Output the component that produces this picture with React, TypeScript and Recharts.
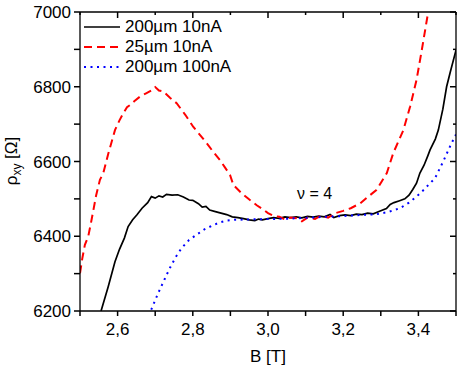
import { LineChart, Line, XAxis, YAxis } from 'recharts'

const FONT = '"Liberation Sans", Arial, sans-serif'

// B [T] , rho_xy [Ohm]
const black200um10nA = [
  [2.55, 6185], [2.556, 6200], [2.575, 6265], [2.593, 6332], [2.605, 6365], [2.618, 6395], [2.628, 6426],
  [2.64, 6444], [2.651, 6457], [2.665, 6475], [2.68, 6490], [2.69, 6506], [2.70, 6502], [2.71, 6508],
  [2.72, 6505], [2.73, 6512], [2.745, 6510], [2.76, 6511], [2.775, 6505], [2.79, 6497], [2.80, 6496],
  [2.815, 6487], [2.825, 6478], [2.835, 6480], [2.845, 6470], [2.86, 6466], [2.875, 6462], [2.89, 6458],
  [2.905, 6452], [2.92, 6450], [2.935, 6447], [2.95, 6444], [2.965, 6442], [2.975, 6446], [2.985, 6444],
  [3.0, 6447], [3.015, 6450], [3.03, 6448], [3.045, 6452], [3.06, 6450], [3.075, 6452], [3.09, 6449],
  [3.105, 6453], [3.12, 6451], [3.135, 6454], [3.15, 6452], [3.165, 6458], [3.175, 6450], [3.19, 6455],
  [3.205, 6457], [3.22, 6455], [3.235, 6459], [3.25, 6458], [3.265, 6462], [3.28, 6460], [3.29, 6464],
  [3.30, 6468], [3.315, 6474], [3.325, 6485], [3.335, 6490], [3.35, 6495], [3.364, 6500], [3.375, 6510],
  [3.385, 6525], [3.395, 6542], [3.404, 6569], [3.415, 6590], [3.425, 6615], [3.431, 6631], [3.445, 6660],
  [3.453, 6684], [3.465, 6740], [3.475, 6800], [3.485, 6840], [3.5, 6898],
]

const red25um10nA = [
  [2.5, 6301], [2.506, 6340], [2.513, 6377], [2.522, 6400], [2.53, 6440], [2.543, 6510], [2.553, 6551],
  [2.562, 6569], [2.575, 6620], [2.593, 6684], [2.605, 6710], [2.615, 6729], [2.625, 6745], [2.633, 6751],
  [2.645, 6762], [2.66, 6774], [2.677, 6783], [2.69, 6790], [2.70, 6799], [2.71, 6790], [2.722, 6787],
  [2.74, 6770], [2.757, 6756], [2.78, 6725], [2.801, 6693], [2.82, 6670], [2.837, 6649], [2.855, 6625],
  [2.872, 6604], [2.885, 6585], [2.899, 6564], [2.908, 6537], [2.93, 6515], [2.952, 6497], [2.97, 6483],
  [2.988, 6471], [3.0, 6462], [3.014, 6455], [3.03, 6452], [3.045, 6445], [3.06, 6450], [3.076, 6448],
  [3.09, 6440], [3.105, 6450], [3.125, 6446], [3.14, 6455], [3.16, 6450], [3.18, 6462], [3.2, 6468],
  [3.22, 6475], [3.245, 6488], [3.265, 6505], [3.289, 6524], [3.302, 6546], [3.316, 6569], [3.333, 6622],
  [3.36, 6684], [3.378, 6747], [3.395, 6818], [3.409, 6898], [3.426, 7000], [3.44, 7060],
]

const blue200um100nA = [
  [2.68, 6170], [2.688, 6200], [2.708, 6248], [2.725, 6285], [2.739, 6315], [2.755, 6345], [2.77, 6368],
  [2.79, 6390], [2.81, 6404], [2.83, 6418], [2.855, 6430], [2.872, 6437], [2.89, 6442], [2.91, 6444],
  [2.95, 6445], [3.0, 6446], [3.05, 6447], [3.1, 6449], [3.15, 6452], [3.2, 6454], [3.25, 6457],
  [3.289, 6459], [3.32, 6465], [3.351, 6475], [3.375, 6490], [3.395, 6506], [3.415, 6525], [3.431, 6542],
  [3.444, 6555], [3.466, 6600], [3.484, 6640], [3.497, 6667], [3.5, 6672],
]

const X_TICKS = [2.5, 2.6, 2.7, 2.8, 2.9, 3.0, 3.1, 3.2, 3.3, 3.4, 3.5]
const Y_TICKS = [6200, 6300, 6400, 6500, 6600, 6700, 6800, 6900, 7000]
const X_MAJOR = [2.6, 2.8, 3.0, 3.2, 3.4]
const Y_MAJOR = [6200, 6400, 6600, 6800, 7000]

const SERIES = [
  { name: '200µm 10nA', data: black200um10nA, color: '#000000', dash: undefined, width: 1.7 },
  { name: '25µm 10nA', data: red25um10nA, color: '#ff0000', dash: '8 5', width: 2 },
  { name: '200µm 100nA', data: blue200um100nA, color: '#0000ff', dash: '2 4.5', width: 2 },
]

const toRows = (d: number[][]) => d.map(([b, r]) => ({ b, r }))
const isMajor = (list: number[], v: number) => list.some(m => Math.abs(m - v) < 1e-6)
const xFmt = (v: number) => (isMajor(X_MAJOR, v) ? v.toFixed(1).replace('.', ',') : '')
const yFmt = (v: number) => (isMajor(Y_MAJOR, v) ? String(v) : '')
const TICK_FONT = { fontSize: 17, fontFamily: FONT, fill: '#000' }
const AXIS_LINE = { stroke: '#000', strokeWidth: 1.3 }
const TICK_LINE = { stroke: '#000', strokeWidth: 1.5 }

// inward ticks for the mirrored top/right frame: props sit 8px (tickSize 6 + tickMargin 2) off the line
const TopTick = ({ x, y, payload }: any) => (
  <line x1={x} x2={x} y1={y + 8} y2={y + 8 + (isMajor(X_MAJOR, payload.value) ? 6 : 3)} stroke="#000" strokeWidth={1.5} />
)
const RightTick = ({ x, y, payload }: any) => (
  <line x1={x - 8} x2={x - 8 - (isMajor(Y_MAJOR, payload.value) ? 6 : 3)} y1={y} y2={y} stroke="#000" strokeWidth={1.5} />
)

export default function App() {
  return (
    <div style={{ position: 'absolute', left: 0, top: 0 }}>
      <LineChart width={457} height={367} margin={{ top: 11, right: 0, left: 0, bottom: 0 }}>
        <XAxis xAxisId="b" dataKey="b" type="number" domain={[2.5, 3.5]} ticks={X_TICKS} allowDataOverflow
          height={56} tickSize={5} tickMargin={7} tickLine={TICK_LINE} tick={TICK_FONT} tickFormatter={xFmt}
          interval={0} axisLine={AXIS_LINE} />
        <XAxis xAxisId="t" orientation="top" dataKey="b" type="number" domain={[2.5, 3.5]} ticks={X_TICKS} allowDataOverflow
          height={1} tickLine={false} tick={<TopTick />} interval={0} axisLine={AXIS_LINE} />
        <YAxis yAxisId="l" dataKey="r" type="number" domain={[6200, 7000]} ticks={Y_TICKS} allowDataOverflow
          width={80} tickSize={6} tickMargin={3} tickLine={TICK_LINE} tick={TICK_FONT} tickFormatter={yFmt}
          interval={0} axisLine={AXIS_LINE} />
        <YAxis yAxisId="r" orientation="right" dataKey="r" type="number" domain={[6200, 7000]} ticks={Y_TICKS} allowDataOverflow
          width={1} tickLine={false} tick={<RightTick />} interval={0} axisLine={AXIS_LINE} />
        {SERIES.map(s => (
          <Line key={s.name} xAxisId="b" yAxisId="l" data={toRows(s.data)} dataKey="r" name={s.name}
            type="linear" stroke={s.color} strokeWidth={s.width} strokeDasharray={s.dash}
            dot={false} activeDot={false} isAnimationActive={false} />
        ))}
      </LineChart>
      <div style={{ position: 'absolute', left: 13, top: 161, transform: 'translate(-50%, -50%) rotate(-90deg)',
        fontFamily: FONT, fontSize: 17, whiteSpace: 'nowrap' }}>
        ρ<sub style={{ fontSize: 12 }}>xy</sub> [Ω]
      </div>
      <div style={{ position: 'absolute', left: 268, top: 347, transform: 'translateX(-50%)', fontFamily: FONT, fontSize: 17 }}>B [T]</div>
      <div style={{ position: 'absolute', left: 83, top: 17, fontFamily: FONT, fontSize: 17, lineHeight: '20px' }}>
        {SERIES.map(s => (
          <div key={s.name} style={{ display: 'flex', alignItems: 'center', height: 20 }}>
            <svg width={38} height={10} style={{ marginRight: 4 }}>
              <line x1={1} x2={37} y1={5} y2={5} stroke={s.color} strokeWidth={s.width} strokeDasharray={s.dash} />
            </svg>
            <span>{s.name}</span>
          </div>
        ))}
      </div>
      <div style={{ position: 'absolute', left: 297, top: 185, fontFamily: FONT, fontSize: 16 }}>ν = 4</div>
    </div>
  )
}
